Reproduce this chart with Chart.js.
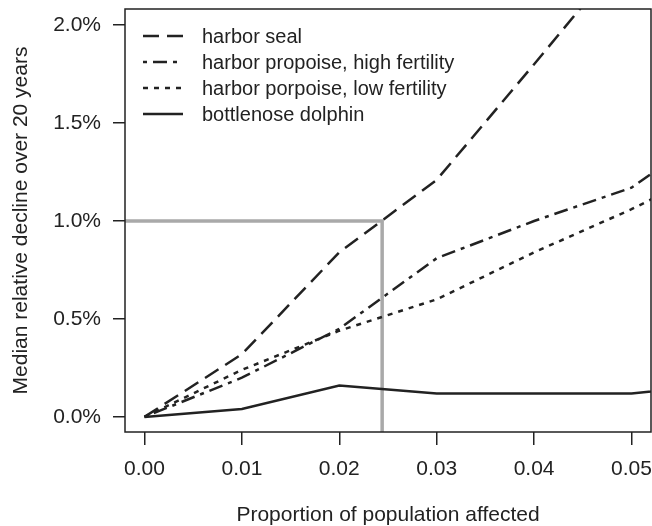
<!DOCTYPE html>
<html>
<head>
<meta charset="utf-8">
<script src="https://cdn.jsdelivr.net/npm/chart.js@4"></script>
<style>
html,body{margin:0;padding:0;background:#fff;}
#wrap{width:652px;height:526px;}
</style>
</head>
<body>
<div id="wrap"><canvas id="c" width="652" height="526"></canvas></div>
<script>
const proportions = [0, 0.01, 0.02, 0.03, 0.04, 0.05, 0.06];
const harborSeal = [0, 0.32, 0.84, 1.21, 1.80, 2.40, 3.00];
const porpoiseHigh = [0, 0.20, 0.45, 0.81, 1.00, 1.17, 1.52];
const porpoiseLow = [0, 0.24, 0.44, 0.60, 0.84, 1.06, 1.31];
const dolphin = [0, 0.04, 0.16, 0.12, 0.12, 0.12, 0.17];
const xTicks = [0, 0.01, 0.02, 0.03, 0.04, 0.05];
const yTicks = [0, 0.5, 1.0, 1.5, 2.0];
const refX = [-0.01, 0.0244, 0.0244];
const refY = [1.0, 1.0, -0.5];
const labels = ['harbor seal', 'harbor propoise, high fertility', 'harbor porpoise, low fertility', 'bottlenose dolphin'];

const FONT = 'Liberation Sans, Arial, Helvetica, sans-serif';
const INK = '#222';
const pts = (xs, ys) => xs.map((x, i) => ({x: x, y: ys[i]}));

function series(label, ys, dash) {
  return {label: label, data: pts(proportions, ys), borderColor: INK, borderWidth: 2.5,
    borderDash: dash, pointRadius: 0, tension: 0, fill: false, borderCapStyle: 'butt'};
}

const datasets = [
  series(labels[0], harborSeal, [16, 8]),
  series(labels[1], porpoiseHigh, [4, 6, 14, 6]),
  series(labels[2], porpoiseLow, [5, 6]),
  series(labels[3], dolphin, []),
  {label: 'ref', data: pts(refX, refY), borderColor: '#a9a9a9', borderWidth: 3.5, pointRadius: 0, fill: false, tension: 0}
];

const boxAndLegend = {
  id: 'boxAndLegend',
  afterDraw(chart) {
    const {ctx, chartArea: a} = chart;
    ctx.save();
    ctx.strokeStyle = INK;
    ctx.lineWidth = 1.5;
    ctx.strokeRect(a.left, a.top, a.right - a.left, a.bottom - a.top);
    ctx.font = '20px ' + FONT;
    ctx.textBaseline = 'middle';
    ctx.fillStyle = INK;
    for (let i = 0; i < 4; i++) {
      const ds = chart.data.datasets[i];
      const y = a.top + 27 + i * 26;
      ctx.beginPath();
      ctx.setLineDash(ds.borderDash);
      ctx.lineWidth = 2.5;
      ctx.moveTo(a.left + 18, y);
      ctx.lineTo(a.left + 58, y);
      ctx.stroke();
      ctx.setLineDash([]);
      ctx.fillText(ds.label, a.left + 77, y + 1);
    }
    ctx.restore();
  }
};

new Chart(document.getElementById('c'), {
  type: 'line',
  data: {datasets: datasets},
  plugins: [boxAndLegend],
  options: {
    responsive: false,
    animation: false,
    devicePixelRatio: 1,
    layout: {padding: {left: 0, top: 9, right: 1, bottom: 0}},
    plugins: {legend: {display: false}, tooltip: {enabled: false}},
    scales: {
      x: {
        type: 'linear', min: -0.002, max: 0.052,
        afterBuildTicks: s => { s.ticks = xTicks.map(v => ({value: v})); },
        afterFit: s => { s.height = 94; s.paddingLeft = 0; s.paddingRight = 0; },
        border: {display: false},
        grid: {drawOnChartArea: false, drawTicks: true, tickLength: 13, color: INK, lineWidth: 1.5},
        ticks: {color: INK, font: {family: FONT, size: 21}, padding: 12, maxRotation: 0, autoSkip: false,
          callback: v => v.toFixed(2)},
        title: {display: true, text: 'Proportion of population affected', color: INK,
          font: {family: FONT, size: 21}, padding: {top: 0, bottom: -2}}
      },
      y: {
        type: 'linear', min: -0.077, max: 2.082,
        afterBuildTicks: s => { s.ticks = yTicks.map(v => ({value: v})); },
        afterFit: s => { s.width = 125; s.paddingTop = 0; s.paddingBottom = 0; },
        border: {display: false},
        grid: {drawOnChartArea: false, drawTicks: true, tickLength: 12, color: INK, lineWidth: 1.5},
        ticks: {color: INK, font: {family: FONT, size: 21}, padding: 12, autoSkip: false,
          callback: v => v.toFixed(1) + '%'},
        title: {display: true, text: 'Median relative decline over 20 years', color: INK,
          font: {family: FONT, size: 21}, padding: {top: 9, bottom: 0}}
      }
    }
  }
});
</script>
</body>
</html>
